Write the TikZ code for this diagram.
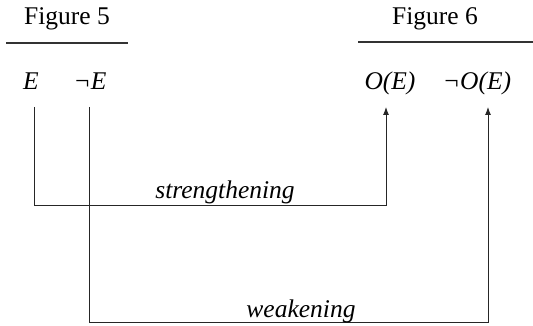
\documentclass[tikz,border=0pt]{standalone}
\usepackage{fontspec}
\setmainfont{Liberation Serif}
\usetikzlibrary{arrows.meta}
\begin{document}
\begin{tikzpicture}[x=1pt,y=-1pt,
  lbl/.style={inner sep=0pt,anchor=base,font=\fontsize{25.5}{30}\selectfont},
  ilbl/.style={lbl,font=\fontsize{25.5}{30}\selectfont\itshape},
  rule/.style={line width=1.1pt,draw=black!80},
  conn/.style={line width=0.9pt,draw=black!85},
  arr/.style={conn,-{Latex[length=8pt,width=6pt]}}]
\useasboundingbox (0,0) rectangle (533,326);
\node[lbl] (f5) at (67,25) {Figure 5};
\node[lbl] (f6) at (435,25) {Figure 6};
\coordinate (r5a) at (6,43); \coordinate (r5b) at (128,43);
\coordinate (r6a) at (358,42); \coordinate (r6b) at (533,42);
\draw[rule] (r5a) -- (r5b);
\draw[rule] (r6a) -- (r6b);
\node[ilbl] (E) at (31,90) {E};
\node[ilbl] (nE) at (90,90) {¬E};
\node[ilbl] (OE) at (390,90) {O(E)};
\node[ilbl] (nOE) at (477,90) {¬O(E)};
\coordinate (e1) at (34,107);
\coordinate (ne1) at (89,107);
\coordinate (o1) at (386,107);
\coordinate (no1) at (488,107);
\draw[arr] (e1) -- ++(0,98) -| (o1);
\draw[arr] (ne1) -- ++(0,215) -| (no1);
\node[ilbl] (st) at (225,199) {strengthening};
\node[ilbl] (wk) at (301,317) {weakening};
\end{tikzpicture}
\end{document}
